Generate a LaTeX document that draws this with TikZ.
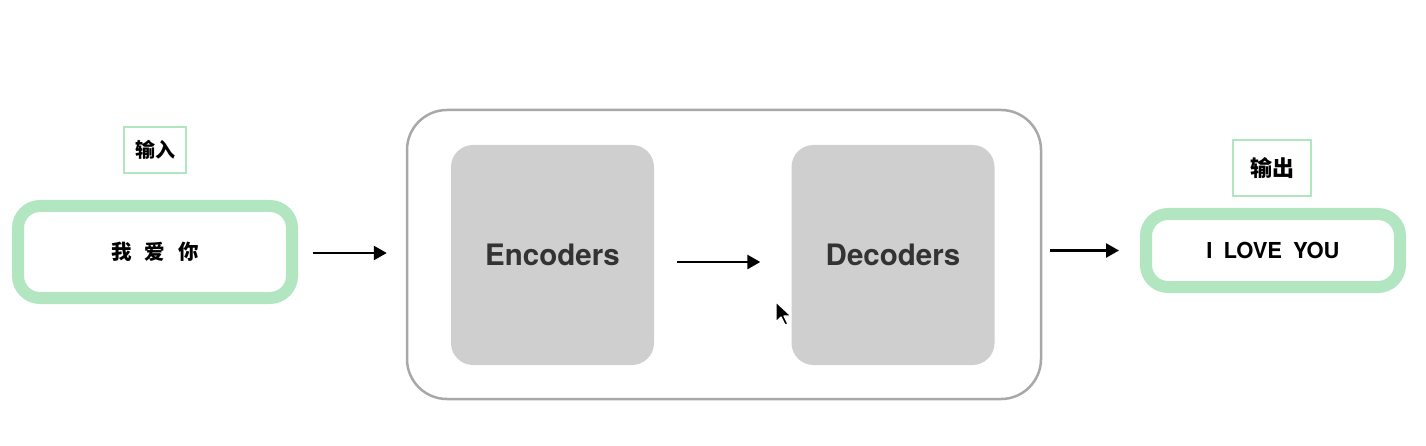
\documentclass[tikz,border=0pt]{standalone}
\usepackage{fontspec}
\setmainfont{TeX Gyre Heros}
\newfontfamily\cjk{Noto Sans CJK SC}
\usetikzlibrary{arrows.meta}

\definecolor{mintgreen}{HTML}{B2E6C1}
\definecolor{boxgray}{HTML}{CFCFCF}
\definecolor{framegray}{HTML}{A8A8A8}
\definecolor{textgray}{HTML}{333333}

\tikzset{
  tagbox/.style={draw=mintgreen, line width=2.5pt, inner sep=0pt, font=\cjk\bfseries},
  wordbox/.style={draw=mintgreen, line width=12pt, rounded corners=22pt, inner sep=0pt},
  coderbox/.style={fill=boxgray, rounded corners=22pt, inner sep=0pt, minimum width=203pt, minimum height=220pt, text=textgray, font=\bfseries\fontsize{29.5}{34}\selectfont},
  flow/.style={-{Triangle[length=13pt,width=14pt]}, line width=2.6pt}
}

\begin{document}
\begin{tikzpicture}[x=1pt, y=-1pt]

      \useasboundingbox (0,0) rectangle (1426,446);

      % Input side
      \node[tagbox, minimum width=62pt, minimum height=46pt, font=\cjk\bfseries\fontsize{20}{24}\selectfont] (inTag) at (155,150) {输入};
      \node[wordbox, minimum width=274pt, minimum height=92pt, font=\cjk\bfseries\fontsize{20.5}{24}\selectfont] (inText) at (155,252) {我\hspace{13pt}爱\hspace{13pt}你};

      % Model frame with encoders and decoders
      \node[draw=framegray, line width=2.5pt, rounded corners=40pt, minimum width=634pt, minimum height=289pt, inner sep=0pt] (model) at (724,254.5) {};
      \node[coderbox] (enc) at (552.5,255) {Encoders};
      \node[coderbox] (dec) at (893,255) {Decoders};

      % Output side
      \node[tagbox, minimum width=78pt, minimum height=56pt, font=\cjk\bfseries\fontsize{22}{26}\selectfont] (outTag) at (1272,168) {输出};
      \node[wordbox, minimum width=254pt, minimum height=73pt, font=\bfseries\fontsize{22}{26}\selectfont] (outText) at (1273,250.5) {I\hspace{11pt}LOVE\hspace{11pt}YOU};

      % Arrows between the stages
      \draw[flow, shorten <=15pt, shorten >=19pt] ([yshift=-1pt]inText.east) -- ([yshift=-1pt]model.west |- inText.east);
      \draw[flow, shorten <=23pt, shorten >=31pt] ([yshift=-7pt]enc.east) -- ([yshift=-7pt]dec.west);
      \draw[flow, shorten <=8pt, shorten >=21pt] (model.east |- outText.east) -- (outText.west);

      % Mouse pointer
      \filldraw[fill=black, draw=white, line width=1.2pt, line join=round]
        (776,302) -- (776,322) -- (781,317) -- (785,325) -- (788,324) -- (784,316) -- (791,316) -- cycle;

\end{tikzpicture}
\end{document}
